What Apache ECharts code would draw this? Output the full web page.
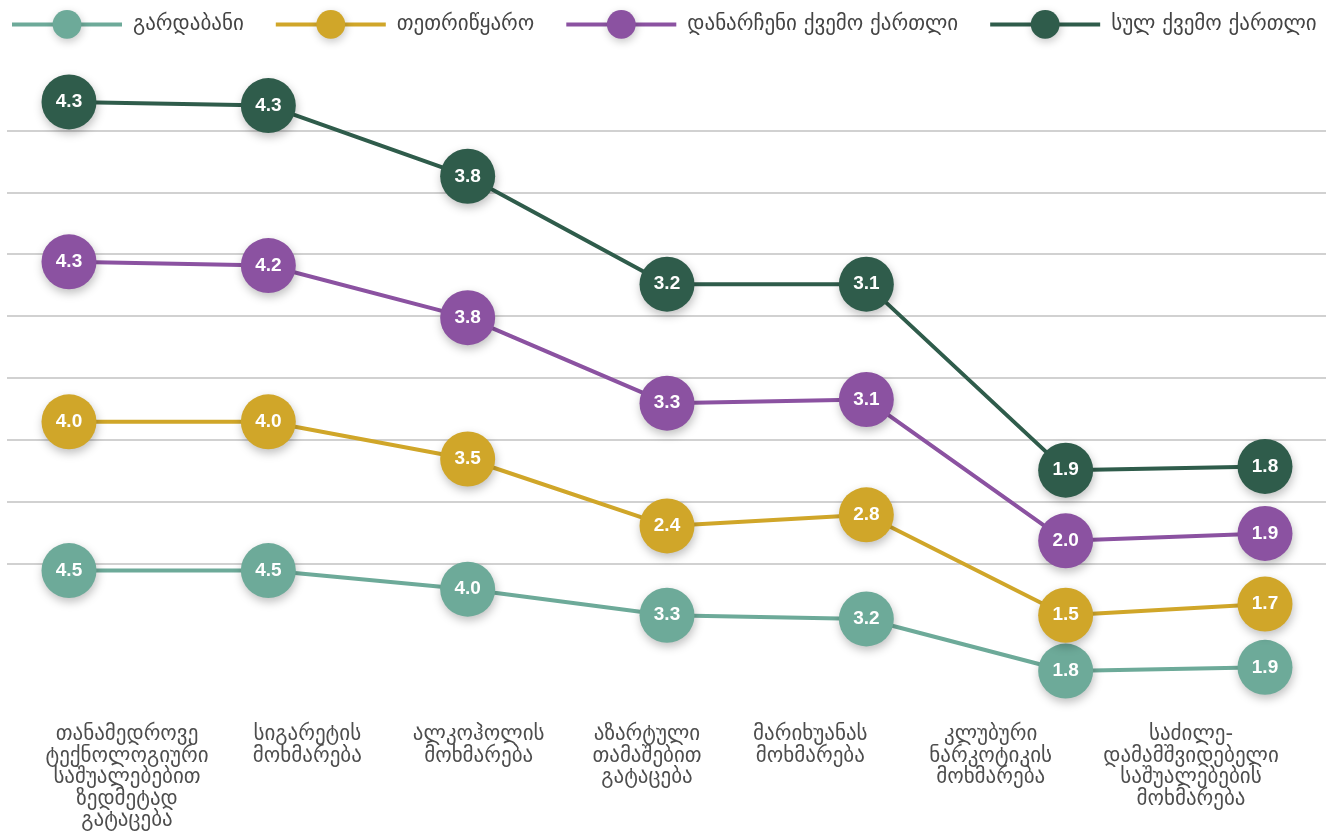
<!DOCTYPE html>
<html>
<head>
<meta charset="utf-8">
<script src="https://cdn.jsdelivr.net/npm/echarts@6/dist/echarts.min.js"></script>
<style>
  html, body { margin: 0; padding: 0; background: #ffffff; }
  #chart { width: 1326px; height: 832px; }
</style>
</head>
<body>
<div id="chart"></div>
<script>
// Categories (multi-line labels)
const categories = [
  'თანამედროვე\nტექნოლოგიური\nსაშუალებებით\nზედმეტად\nგატაცება',
  'სიგარეტის\nმოხმარება',
  'ალკოჰოლის\nმოხმარება',
  'აზარტული\nთამაშებით\nგატაცება',
  'მარიხუანას\nმოხმარება',
  'კლუბური\nნარკოტიკის\nმოხმარება',
  'საძილე-\nდამამშვიდებელი\nსაშუალებების\nმოხმარება'
];

// Series values
const gardabani     = [4.5, 4.5, 4.0, 3.3, 3.2, 1.8, 1.9];
const tetritskaro   = [4.0, 4.0, 3.5, 2.4, 2.8, 1.5, 1.7];
const restKvemo     = [4.3, 4.2, 3.8, 3.3, 3.1, 2.0, 1.9];
const totalKvemo    = [4.3, 4.3, 3.8, 3.2, 3.1, 1.9, 1.8];

const seriesNames = ['გარდაბანი', 'თეთრიწყარო', 'დანარჩენი ქვემო ქართლი', 'სულ ქვემო ქართლი'];
const seriesData  = [gardabani, tetritskaro, restKvemo, totalKvemo];
const colors      = ['#6daa99', '#d0a629', '#8b52a1', '#2f5c4b'];

// horizontal nudge (px) of each category label relative to its tick
const labelShift = [58, 39, 11, -20, -56, -75, -74];

const GEO_FONT = '"DejaVu Sans", "Noto Sans", sans-serif';

const chart = echarts.init(document.getElementById('chart'), null, { renderer: 'canvas' });

// rich styles that pad each label so its text sits off-centre by labelShift
const labelRich = {};
labelShift.forEach((s, i) => {
  labelRich['c' + i] = {
    fontSize: 21,
    lineHeight: 21.5,
    color: '#4d4d4d',
    fontFamily: GEO_FONT,
    align: 'center',
    padding: s >= 0 ? [0, 0, 0, 2 * s] : [0, -2 * s, 0, 0]
  };
});

const series = seriesData.map((vals, i) => ({
  name: seriesNames[i],
  type: 'line',
  stack: 'total',
  xAxisIndex: 1,
  yAxisIndex: 1,
  data: vals,
  color: colors[i],
  symbol: 'circle',
  symbolSize: 55,
  showAllSymbol: true,
  lineStyle: { width: 4, color: colors[i] },
  itemStyle: {
    color: colors[i],
    shadowBlur: 10,
    shadowOffsetX: 1,
    shadowOffsetY: 4,
    shadowColor: 'rgba(0,0,0,0.25)'
  },
  label: {
    show: true,
    position: 'inside',
    color: '#ffffff',
    fontWeight: 'bold',
    fontSize: 19,
    fontFamily: '"Liberation Sans", Arial, sans-serif',
    formatter: p => Number(p.value).toFixed(1)
  },
  emphasis: { disabled: true },
  z: 3 + i
}));

const option = {
  backgroundColor: '#ffffff',
  animation: false,
  legend: {
    top: 10,
    left: 10,
    padding: 0,
    width: 1316,
    itemWidth: 110,
    itemHeight: 36,
    itemGap: 30,
    data: seriesNames,
    lineStyle: { width: 4 },
    itemStyle: {
      shadowBlur: 8,
      shadowOffsetX: 1,
      shadowOffsetY: 3,
      shadowColor: 'rgba(0,0,0,0.22)'
    },
    textStyle: {
      fontSize: 21,
      color: '#444444',
      fontFamily: GEO_FONT,
      padding: [0, 0, 0, 6]
    }
  },
  grid: [
    // background rules
    { left: 7, right: 0, top: 130.5, height: 433, outerBoundsMode: 'none' },
    // plotted lines
    { left: 69, right: 61, top: 68.4, bottom: 94, outerBoundsMode: 'none' }
  ],
  xAxis: [
    { gridIndex: 0, type: 'category', data: categories, show: false },
    {
      gridIndex: 1,
      type: 'category',
      data: categories,
      boundaryGap: false,
      offset: -14,
      axisLine: { show: false },
      axisTick: { show: false },
      axisLabel: {
        interval: 0,
        margin: 0,
        hideOverlap: false,
        fontSize: 21,
        lineHeight: 21.5,
        color: '#4d4d4d',
        fontFamily: GEO_FONT,
        align: 'center',
        rich: labelRich,
        formatter: (value, idx) =>
          value.split('\n').map(line => '{c' + idx + '|' + line + '}').join('\n')
      }
    }
  ],
  yAxis: [
    {
      gridIndex: 0,
      type: 'value',
      min: 0,
      max: 7,
      interval: 1,
      axisLine: { show: false },
      axisTick: { show: false },
      axisLabel: { show: false },
      splitLine: { show: true, lineStyle: { color: '#c2c2c2', width: 1.5 } }
    },
    {
      gridIndex: 1,
      type: 'value',
      min: 0,
      max: 18,
      show: false,
      splitLine: { show: false }
    }
  ],
  series: series
};

chart.setOption(option);
</script>
</body>
</html>
